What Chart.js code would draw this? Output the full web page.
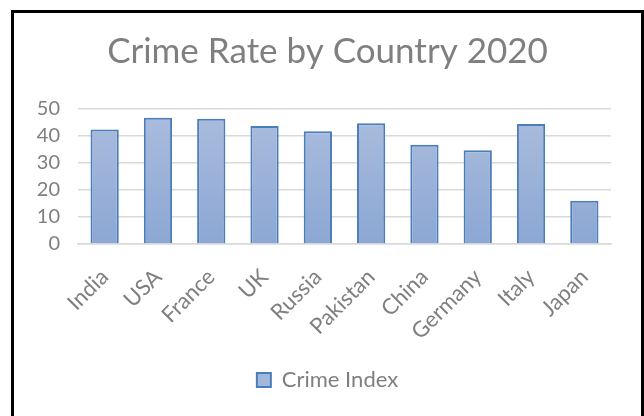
<!DOCTYPE html>
<html>
<head>
<meta charset="utf-8">
<script src="https://cdn.jsdelivr.net/npm/chart.js@4"></script>
<style>
  html, body { margin: 0; padding: 0; background: #fff; overflow: hidden; }
  .frame {
    position: absolute; left: 11px; top: 10px;
    width: 627px; height: 420px;
    border: 3px solid #000;
    background: #fff;
  }
</style>
</head>
<body>
<div class="frame"><canvas id="crimeChart" width="627" height="420"></canvas></div>
<script>
// data
const countries = ['India', 'USA', 'France', 'UK', 'Russia', 'Pakistan', 'China', 'Germany', 'Italy', 'Japan'];
const crimeIndex = [42.4, 46.8, 46.4, 43.7, 41.8, 44.7, 36.8, 34.7, 44.4, 16.0];
const yTicks = [0, 10, 20, 30, 40, 50];

const grey = '#7f7f7f';
const font = 'Lato, "Open Sans", sans-serif';

const ctx = document.getElementById('crimeChart').getContext('2d');
new Chart(ctx, {
    type: 'bar',
    data: {
        labels: countries,
        datasets: [{
            label: 'Crime Index',
            data: crimeIndex,
            backgroundColor: function (c) {
                const area = c.chart.chartArea;
                if (!area) return '#a0b4d9';
                const g = c.chart.ctx.createLinearGradient(0, area.top, 0, area.bottom);
                g.addColorStop(0, '#abbddd');
                g.addColorStop(1, '#8ca7d4');
                return g;
            },
            borderColor: '#4a7ebb',
            borderWidth: 2,
            barPercentage: 0.53,
            categoryPercentage: 1
        }]
    },
    options: {
        responsive: false,
        animation: false,
        layout: { padding: { left: 0, right: 0, top: 0, bottom: 32 } },
        plugins: {
            title: {
                display: true,
                text: 'Crime Rate by Country 2020',
                color: grey,
                font: { family: font, size: 35, weight: 'normal' },
                padding: { top: 18, bottom: 36 }
            },
            legend: {
                position: 'bottom',
                labels: {
                    color: grey,
                    font: { family: font, size: 22 },
                    boxWidth: 14,
                    boxHeight: 14,
                    padding: 12,
                    generateLabels: function () {
                        return [{
                            text: 'Crime Index',
                            fillStyle: '#a3b7da',
                            strokeStyle: '#4a7ebb',
                            lineWidth: 2,
                            fontColor: grey,
                            datasetIndex: 0
                        }];
                    }
                }
            },
            tooltip: { enabled: false }
        },
        scales: {
            x: {
                afterFit: function (axis) { axis.height = 113; },
                grid: { display: false, drawTicks: false },
                border: { display: true, color: '#d9d9d9', width: 1.5 },
                ticks: {
                    color: grey,
                    font: { family: font, size: 22 },
                    maxRotation: 45,
                    minRotation: 45,
                    autoSkip: false,
                    padding: 20
                }
            },
            y: {
                min: 0,
                max: 50,
                afterBuildTicks: function (axis) {
                    axis.ticks = yTicks.map(v => ({ value: v }));
                },
                afterFit: function (axis) { axis.width = 64; },
                grid: { color: '#d9d9d9', lineWidth: 1.5, drawTicks: false },
                border: { display: false },
                ticks: {
                    color: grey,
                    font: { family: font, size: 20 },
                    padding: 18
                }
            },
            // empty right-hand spacer so title and legend centre like the original
            spacer: {
                type: 'linear',
                position: 'right',
                min: 0,
                max: 50,
                afterFit: function (axis) { axis.width = 30; },
                grid: { display: false, drawTicks: false },
                border: { display: false },
                ticks: { display: false }
            }
        }
    }
});
</script>
</body>
</html>
